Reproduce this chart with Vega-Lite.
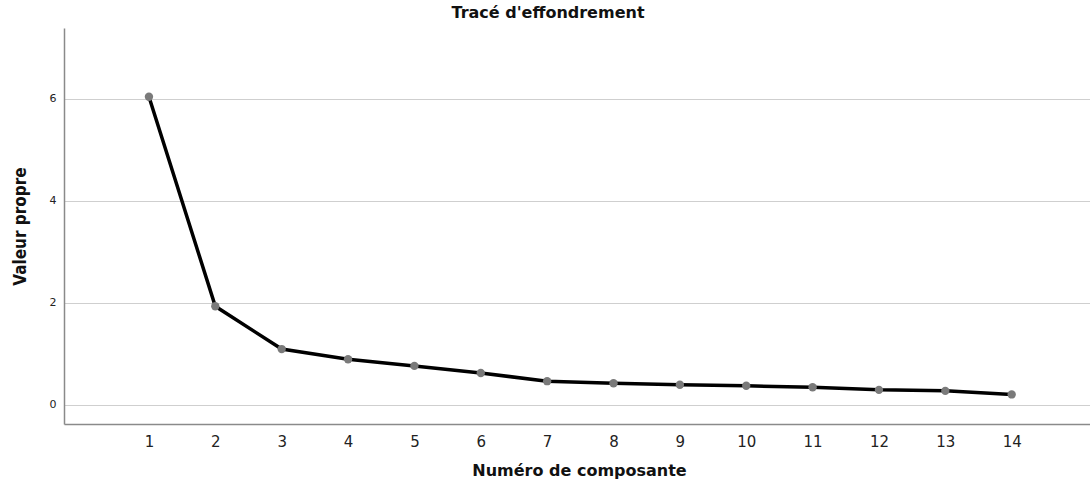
{
  "$schema": "https://vega.github.io/schema/vega-lite/v6.json",
  "width": 1026,
  "height": 396,
  "autosize": {"type": "none"},
  "padding": {"left": 64, "top": 28, "right": 0, "bottom": 58},
  "background": "white",
  "title": {
    "text": "Tracé d'effondrement",
    "font": "DejaVu Sans",
    "fontSize": 16,
    "fontWeight": "bold",
    "color": "#111111",
    "anchor": "middle",
    "dx": -29,
    "offset": 7
  },
  "config": {
    "view": {"stroke": null},
    "axis": {"domainColor": "#8a8a8a", "domainWidth": 1.5, "ticks": false, "gridColor": "#cfcfcf", "gridWidth": 1.2}
  },
  "data": {
    "values": [
      {"composante": 1, "valeur": 6.04},
      {"composante": 2, "valeur": 1.93},
      {"composante": 3, "valeur": 1.09},
      {"composante": 4, "valeur": 0.89},
      {"composante": 5, "valeur": 0.76},
      {"composante": 6, "valeur": 0.62},
      {"composante": 7, "valeur": 0.46},
      {"composante": 8, "valeur": 0.42},
      {"composante": 9, "valeur": 0.39},
      {"composante": 10, "valeur": 0.37},
      {"composante": 11, "valeur": 0.34},
      {"composante": 12, "valeur": 0.29},
      {"composante": 13, "valeur": 0.27},
      {"composante": 14, "valeur": 0.2}
    ]
  },
  "encoding": {
    "x": {
      "field": "composante",
      "type": "quantitative",
      "scale": {"domain": [-0.28, 15.18], "nice": false, "zero": false},
      "axis": {
        "values": [1, 2, 3, 4, 5, 6, 7, 8, 9, 10, 11, 12, 13, 14],
        "grid": false,
        "labelFont": "DejaVu Sans",
        "labelFontSize": 15,
        "labelColor": "#222222",
        "labelPadding": 10,
        "title": "Numéro de composante",
        "titleFont": "DejaVu Sans",
        "titleFontSize": 16,
        "titleFontWeight": "bold",
        "titleColor": "#111111",
        "titleX": 515,
        "titleY": 51,
        "titleBaseline": "alphabetic",
        "titleAnchor": "middle",
        "titleAlign": "center"
      }
    },
    "y": {
      "field": "valeur",
      "type": "quantitative",
      "scale": {"domain": [-0.38, 7.39], "nice": false, "zero": false},
      "axis": {
        "values": [0, 2, 4, 6],
        "grid": true,
        "labelFont": "DejaVu Sans",
        "labelFontSize": 11,
        "labelColor": "#222222",
        "labelPadding": 8,
        "title": "Valeur propre",
        "titleFont": "DejaVu Sans Condensed",
        "titleFontSize": 17,
        "titleFontWeight": "bold",
        "titleColor": "#111111",
        "titleAngle": -90,
        "titleX": -44,
        "titleY": 198,
        "titleAlign": "center",
        "titleBaseline": "middle"
      }
    }
  },
  "layer": [
    {"mark": {"type": "line", "color": "#000000", "strokeWidth": 3.5}},
    {"mark": {"type": "point", "filled": true, "color": "#7a7a7a", "opacity": 1, "size": 70}}
  ]
}
